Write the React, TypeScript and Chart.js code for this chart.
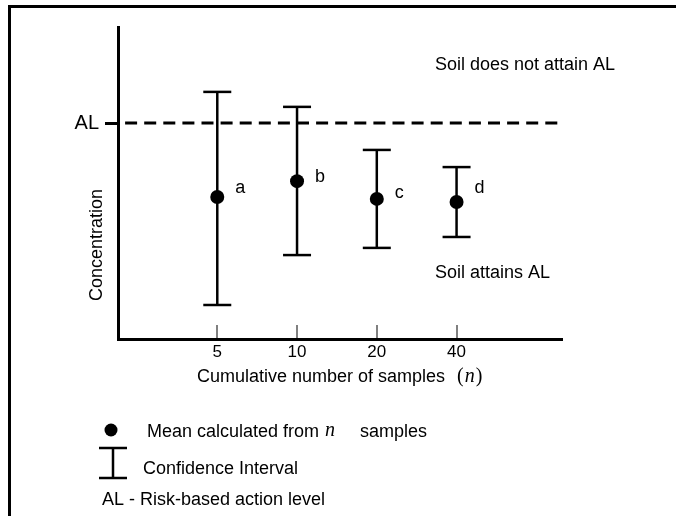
import React, { useEffect, useRef } from "react";
import { Chart, registerables } from "chart.js";

Chart.register(...registerables);

// ---- data ----
const sampleCounts = [5, 10, 20, 40];
const pointLabels = ["a", "b", "c", "d"];
const meanValues = [45.5, 50.6, 44.9, 43.9];
const upperValues = [79.2, 74.4, 60.6, 55.1];
const lowerValues = [10.9, 26.9, 29.2, 32.7];
const actionLevel = 69.2;
const axisLabelAL = "AL";
const xRange = [2.11, 100];
const yRange = [0, 100];

// ---- style ----
const SANS = "'Liberation Sans', Arial, Helvetica, sans-serif";
const SERIF = "'Liberation Serif', 'Times New Roman', serif";
const labelNudgeY = [-3, 2, 0, -8];

const annotationPlugin = {
  id: "annotations",
  afterDraw(chart: any) {
    const ctx = chart.ctx as CanvasRenderingContext2D;
    const xs = chart.scales.x;
    const ys = chart.scales.y;
    ctx.save();
    // figure frame (top and left)
    ctx.fillStyle = "#000";
    ctx.fillRect(8, 5, 676 - 8, 3);
    ctx.fillRect(8, 5, 3, 516 - 5);

    // point labels a-d
    ctx.font = `18px ${SANS}`;
    ctx.textAlign = "left";
    ctx.textBaseline = "alphabetic";
    pointLabels.forEach((lab, i) => {
      const px = xs.getPixelForValue(sampleCounts[i]);
      const py = ys.getPixelForValue(meanValues[i]);
      ctx.fillText(lab, px + 18, py - 1 + labelNudgeY[i]);
    });

    // region texts
    ctx.textBaseline = "middle";
    ctx.fillText("Soil does not attain AL", 435, 65);
    ctx.fillText("Soil attains AL", 435, 273);

    // y title
    ctx.save();
    ctx.translate(97, 245);
    ctx.rotate(-Math.PI / 2);
    ctx.textAlign = "center";
    ctx.fillText("Concentration", 0, 0);
    ctx.restore();

    // x title with italic n
    let x = 197;
    const ty = 377;
    ctx.font = `18px ${SANS}`;
    ctx.fillText("Cumulative number of samples", x, ty);
    x = 457;
    ctx.font = `20px ${SERIF}`;
    ctx.fillText("(", x, ty);
    x += ctx.measureText("(").width + 1;
    ctx.font = `italic 20px ${SERIF}`;
    ctx.fillText("n", x, ty);
    x += ctx.measureText("n").width + 1;
    ctx.font = `20px ${SERIF}`;
    ctx.fillText(")", x, ty);

    // legend: mean marker
    ctx.beginPath();
    ctx.arc(111, 430, 6.5, 0, Math.PI * 2);
    ctx.fill();
    ctx.font = `18px ${SANS}`;
    ctx.fillText("Mean calculated from", 147, 432);
    ctx.font = `italic 20px ${SERIF}`;
    ctx.fillText("n", 325, 431);
    ctx.font = `18px ${SANS}`;
    ctx.fillText("samples", 360, 432);

    // legend: confidence interval
    ctx.strokeStyle = "#000";
    ctx.lineWidth = 2.5;
    ctx.beginPath();
    ctx.moveTo(99, 448);
    ctx.lineTo(127, 448);
    ctx.moveTo(113, 448);
    ctx.lineTo(113, 478);
    ctx.moveTo(99, 478);
    ctx.lineTo(127, 478);
    ctx.stroke();
    ctx.fillText("Confidence Interval", 143, 469);

    ctx.fillText("AL - Risk-based action level", 102, 500);
    ctx.restore();
  },
};

export default function App() {
  const ref = useRef<HTMLCanvasElement | null>(null);

  useEffect(() => {
    if (!ref.current) return;
    const errorSets = sampleCounts.map((n, i) => ({
      type: "line" as const,
      data: [
        { x: n, y: lowerValues[i] },
        { x: n, y: upperValues[i] },
      ],
      borderColor: "#000",
      borderWidth: 2.5,
      pointStyle: "line" as const,
      pointRadius: 14,
      pointHoverRadius: 14,
      pointBorderWidth: 2.5,
      pointBorderColor: "#000",
      order: 1,
    }));

    const chart = new Chart(ref.current, {
      type: "scatter",
      data: {
        datasets: [
          {
            type: "scatter",
            data: sampleCounts.map((n, i) => ({ x: n, y: meanValues[i] })),
            pointRadius: 7,
            pointHoverRadius: 7,
            backgroundColor: "#000",
            borderColor: "#000",
            borderWidth: 0,
            order: 0,
          } as any,
          {
            type: "line",
            data: [
              { x: xRange[0], y: actionLevel },
              { x: xRange[1], y: actionLevel },
            ],
            borderColor: "#000",
            borderWidth: 3,
            borderDash: [12, 7.1],
            borderDashOffset: 12,
            pointRadius: 0,
            clip: { left: 0, top: 0, right: 4, bottom: 0 },
            order: 2,
          } as any,
          ...(errorSets as any[]),
        ],
      },
      options: {
        responsive: false,
        animation: false,
        events: [],
        layout: { padding: { left: 0, top: 27, right: 114, bottom: 137 } },
        plugins: {
          legend: { display: false },
          tooltip: { enabled: false },
        },
        scales: {
          x: {
            type: "logarithmic",
            position: "bottom",
            min: xRange[0],
            max: xRange[1],
            afterBuildTicks: (s: any) => {
              s.ticks = sampleCounts.map((v) => ({ value: v }));
            },
            afterFit: (s: any) => {
              s.height = 40;
            },
            ticks: {
              callback: (v: any) => String(v),
              font: { family: SANS, size: 17 },
              color: "#000",
              padding: 17,
              autoSkip: false,
              maxRotation: 0,
            },
            grid: {
              display: true,
              drawOnChartArea: false,
              drawTicks: true,
              tickLength: -14,
              color: "#808080",
              lineWidth: 2,
            },
            border: { display: true, color: "#000", width: 3 },
          },
          y: {
            type: "linear",
            position: "left",
            min: yRange[0],
            max: yRange[1],
            afterBuildTicks: (s: any) => {
              s.ticks = [{ value: actionLevel }];
            },
            afterFit: (s: any) => {
              s.width = 118;
            },
            ticks: {
              callback: () => axisLabelAL,
              font: { family: SANS, size: 20 },
              color: "#000",
              padding: 6,
            },
            grid: {
              display: true,
              drawOnChartArea: false,
              drawTicks: true,
              tickLength: 13,
              color: "#000",
              lineWidth: 3,
            },
            border: { display: true, color: "#000", width: 3 },
          },
        },
      } as any,
      plugins: [annotationPlugin],
    });
    return () => chart.destroy();
  }, []);

  return (
    <div style={{ position: "absolute", left: 0, top: 0, width: 676, height: 516, background: "#fff" }}>
      <canvas ref={ref} width={676} height={516} style={{ display: "block", width: 676, height: 516 }} />
    </div>
  );
}
